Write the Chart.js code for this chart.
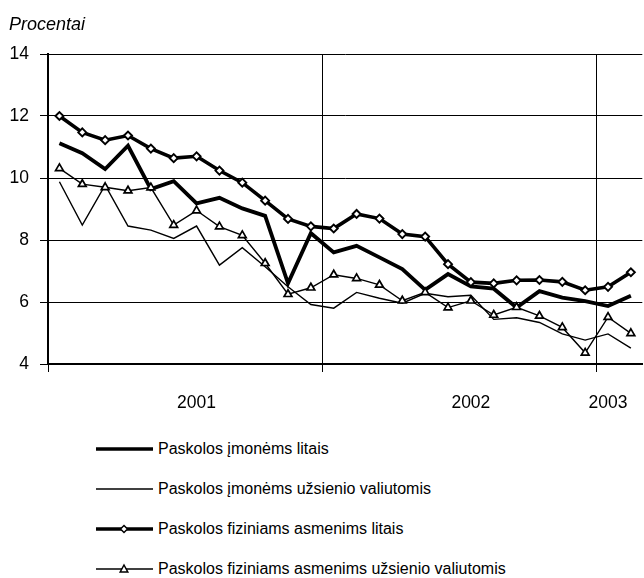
<!DOCTYPE html>
<html>
<head>
<meta charset="utf-8">
<script src="https://cdn.jsdelivr.net/npm/chart.js@4/dist/chart.umd.min.js"></script>
<style>
  html, body { margin: 0; padding: 0; background: #fff; overflow: hidden; width: 644px; height: 578px; }
  #wrap { position: relative; width: 644px; height: 578px; overflow: hidden; }
  #c { position: absolute; left: 0; top: 0; }
  .leg { position: absolute; left: 96px; height: 20px; font-family: "Liberation Sans", Arial, sans-serif; font-size: 16px; color: #000; white-space: nowrap; }
  .leg svg { position: absolute; left: 0; top: 0; }
  .leg span { position: absolute; left: 62px; top: 0; line-height: 20px; }
</style>
</head>
<body>
<div id="wrap">
  <canvas id="c" width="652" height="420"></canvas>
  <div class="leg" style="top:439px">
    <svg width="60" height="20"><line x1="0" y1="10" x2="57" y2="10" stroke="#000" stroke-width="3.5"/></svg>
    <span>Paskolos įmonėms litais</span>
  </div>
  <div class="leg" style="top:479px">
    <svg width="60" height="20"><line x1="0" y1="10" x2="57" y2="10" stroke="#000" stroke-width="1.3"/></svg>
    <span>Paskolos įmonėms užsienio valiutomis</span>
  </div>
  <div class="leg" style="top:519px">
    <svg width="60" height="20"><line x1="0" y1="10" x2="57" y2="10" stroke="#000" stroke-width="3.5"/><polygon points="28,6.5 31.5,10 28,13.5 24.5,10" fill="#fff" stroke="#000" stroke-width="1.5"/></svg>
    <span>Paskolos fiziniams asmenims litais</span>
  </div>
  <div class="leg" style="top:559px">
    <svg width="60" height="20"><line x1="0" y1="10" x2="57" y2="10" stroke="#000" stroke-width="1.3"/><polygon points="28,6 31.8,13 24.2,13" fill="#fff" stroke="#000" stroke-width="1.5"/></svg>
    <span>Paskolos fiziniams asmenims užsienio valiutomis</span>
  </div>
</div>
<script>
// Months: January 2001 - February 2003
const categories = [
  '2001-01','2001-02','2001-03','2001-04','2001-05','2001-06','2001-07','2001-08','2001-09','2001-10','2001-11','2001-12',
  '2002-01','2002-02','2002-03','2002-04','2002-05','2002-06','2002-07','2002-08','2002-09','2002-10','2002-11','2002-12',
  '2003-01','2003-02'
];
const yearLabels = ['2001', '2002', '2003'];
const yearLabelIndex = [6, 18, 24];
const yearBoundaryIndex = [0, 12, 24];
const yTickValues = [4, 6, 8, 10, 12, 14];

const seriesNames = [
  'Paskolos įmonėms litais',
  'Paskolos įmonėms užsienio valiutomis',
  'Paskolos fiziniams asmenims litais',
  'Paskolos fiziniams asmenims užsienio valiutomis'
];
const imonemsLitais = [11.12, 10.8, 10.29, 11.04, 9.64, 9.9, 9.18, 9.36, 9.02, 8.78, 6.6, 8.22, 7.6, 7.81, 7.44, 7.06, 6.39, 6.9, 6.5, 6.43, 5.82, 6.35, 6.14, 6.03, 5.87, 6.2];
const imonemsValiuta = [9.88, 8.48, 9.77, 8.45, 8.32, 8.05, 8.45, 7.19, 7.75, 7.14, 6.49, 5.92, 5.8, 6.31, 6.12, 5.96, 6.28, 6.17, 6.22, 5.44, 5.49, 5.34, 4.97, 4.77, 4.97, 4.51];
const fiziniamsLitais = [12.0, 11.47, 11.22, 11.37, 10.95, 10.64, 10.7, 10.24, 9.85, 9.27, 8.68, 8.44, 8.37, 8.84, 8.69, 8.19, 8.11, 7.22, 6.64, 6.6, 6.7, 6.71, 6.65, 6.38, 6.49, 6.96];
const fiziniamsValiuta = [10.31, 9.8, 9.7, 9.59, 9.69, 8.48, 8.95, 8.43, 8.15, 7.25, 6.25, 6.46, 6.88, 6.76, 6.55, 6.04, 6.31, 5.82, 6.04, 5.58, 5.83, 5.55, 5.18, 4.36, 5.51, 4.99];

const FONT = '"Liberation Sans", Arial, sans-serif';

const unitLabel = {
  id: 'unitLabel',
  afterDraw(chart) {
    const ctx = chart.ctx;
    ctx.save();
    ctx.fillStyle = '#000';
    ctx.font = 'italic 18px ' + FONT;
    ctx.textAlign = 'left';
    ctx.textBaseline = 'alphabetic';
    ctx.fillText('Procentai', 9, 30);
    ctx.restore();
  }
};

new Chart(document.getElementById('c'), {
  type: 'line',
  data: {
    labels: categories,
    datasets: [
      { label: seriesNames[0], data: imonemsLitais, borderColor: '#000', borderWidth: 3.8, pointRadius: 0, tension: 0, order: 2 },
      { label: seriesNames[1], data: imonemsValiuta, borderColor: '#000', borderWidth: 1.4, pointRadius: 0, tension: 0, order: 3 },
      { label: seriesNames[2], data: fiziniamsLitais, borderColor: '#000', borderWidth: 3.6, pointStyle: 'rectRot', pointRadius: 4, pointBackgroundColor: '#fff', pointBorderColor: '#000', pointBorderWidth: 1.9, tension: 0, order: 0 },
      { label: seriesNames[3], data: fiziniamsValiuta, borderColor: '#000', borderWidth: 1.4, pointStyle: 'triangle', pointRadius: 4.5, pointBackgroundColor: '#fff', pointBorderColor: '#000', pointBorderWidth: 1.7, tension: 0, order: 1 }
    ]
  },
  options: {
    responsive: false,
    animation: false,
    layout: { padding: { top: 54, right: 4, left: 0, bottom: 0 } },
    plugins: { legend: { display: false }, tooltip: { enabled: false }, title: { display: false } },
    elements: { point: { hoverRadius: 0 } },
    scales: {
      x: {
        type: 'category',
        offset: true,
        afterFit(scale) { scale.height = 56; },
        border: { display: true, color: '#000', width: 2 },
        grid: {
          offset: true,
          drawTicks: true,
          tickLength: 8,
          lineWidth: 1,
          color: (ctx) => yearBoundaryIndex.includes(ctx.index) ? '#000' : 'rgba(0,0,0,0)'
        },
        ticks: {
          autoSkip: false,
          maxRotation: 0,
          minRotation: 0,
          padding: 21,
          color: '#000',
          font: { family: FONT, size: 17.5 },
          callback: (val, i) => {
            const k = yearLabelIndex.indexOf(i);
            return k >= 0 ? yearLabels[k] : '';
          }
        }
      },
      y: {
        min: 4,
        max: 14,
        afterFit(scale) { scale.width = 48; },
        afterBuildTicks(scale) { scale.ticks = yTickValues.map(v => ({ value: v })); },
        border: { display: true, color: '#000', width: 2 },
        grid: { color: '#000', lineWidth: 1, drawTicks: true, tickLength: 8 },
        ticks: {
          padding: 11,
          color: '#000',
          font: { family: FONT, size: 17.5 },
          callback: (v) => String(v)
        }
      }
    }
  },
  plugins: [unitLabel]
});
</script>
</body>
</html>
